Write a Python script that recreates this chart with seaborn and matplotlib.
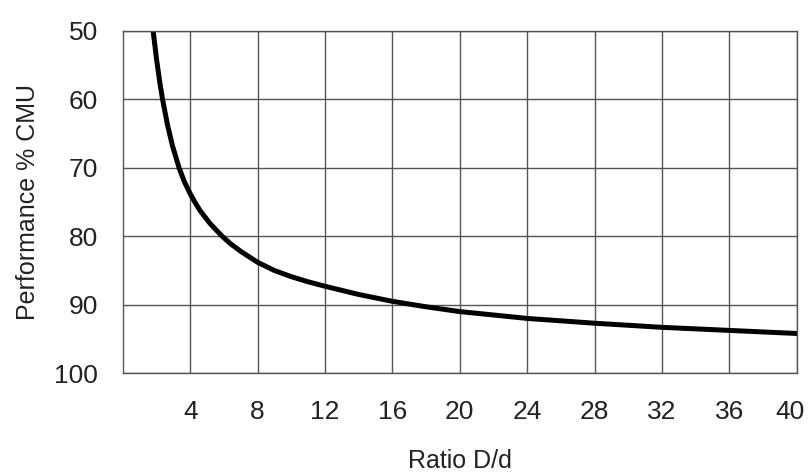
import seaborn as sns, matplotlib.pyplot as plt, pandas as pd, numpy as np
import matplotlib.transforms as mtrans

# values
ratio = [1.8, 2.0, 2.2, 2.36, 2.65, 2.95, 3.34, 3.65, 4, 4.3, 4.57, 5.2, 5.9, 6.4, 7, 8, 9, 10, 11, 12, 14, 16, 18, 20, 24, 28, 32, 36, 40]
perf = [50, 54.1, 57.6, 60, 63.7, 66.8, 70, 72.0, 73.8, 75.1, 76.2, 78.2, 80, 81.1, 82.2, 83.8, 85.0, 85.9, 86.65, 87.3, 88.5, 89.5, 90.3, 91, 92, 92.7, 93.3, 93.75, 94.2]

x_ticks = [4, 8, 12, 16, 20, 24, 28, 32, 36, 40]
y_ticks = [50, 60, 70, 80, 90, 100]

df = pd.DataFrame({'ratio': ratio, 'perf': perf})

sns.set_style('white')
plt.rcParams['font.family'] = ['Liberation Sans', 'DejaVu Sans']

fig = plt.figure(figsize=(8.08, 4.76), dpi=100)
ax = fig.add_axes([0.152, 0.216, 0.834, 0.719])

sns.lineplot(data=df, x='ratio', y='perf', color='black', linewidth=3.6, ax=ax)

#grid and axes
ax.set_xlim(0, 40)
ax.set_ylim(100, 50)
ax.set_xticks(x_ticks)
ax.set_yticks(y_ticks)
for v in x_ticks:
    ax.axvline(v, color='#555555', lw=1, zorder=0)
for v in y_ticks:
    ax.axhline(v, color='#555555', lw=1, zorder=0)
for s in ax.spines.values():
    s.set_color('#555555')
    s.set_linewidth(1)

ax.tick_params(length=0, labelsize=19, colors='#222222')
ax.tick_params(axis='x', pad=19)
ax.tick_params(axis='y', pad=18)
ax.set_xlabel('Ratio D/d', fontsize=18, labelpad=18, color='#222222')
ax.set_ylabel('Performance % CMU', fontsize=18, labelpad=10, color='#222222')

# nudge the last x label so it stays inside the figure
last = ax.get_xticklabels()[-1]
last.set_transform(last.get_transform() + mtrans.ScaledTranslation(-7/100, 0, fig.dpi_scale_trans))

fig.savefig('out.png', dpi=100)
